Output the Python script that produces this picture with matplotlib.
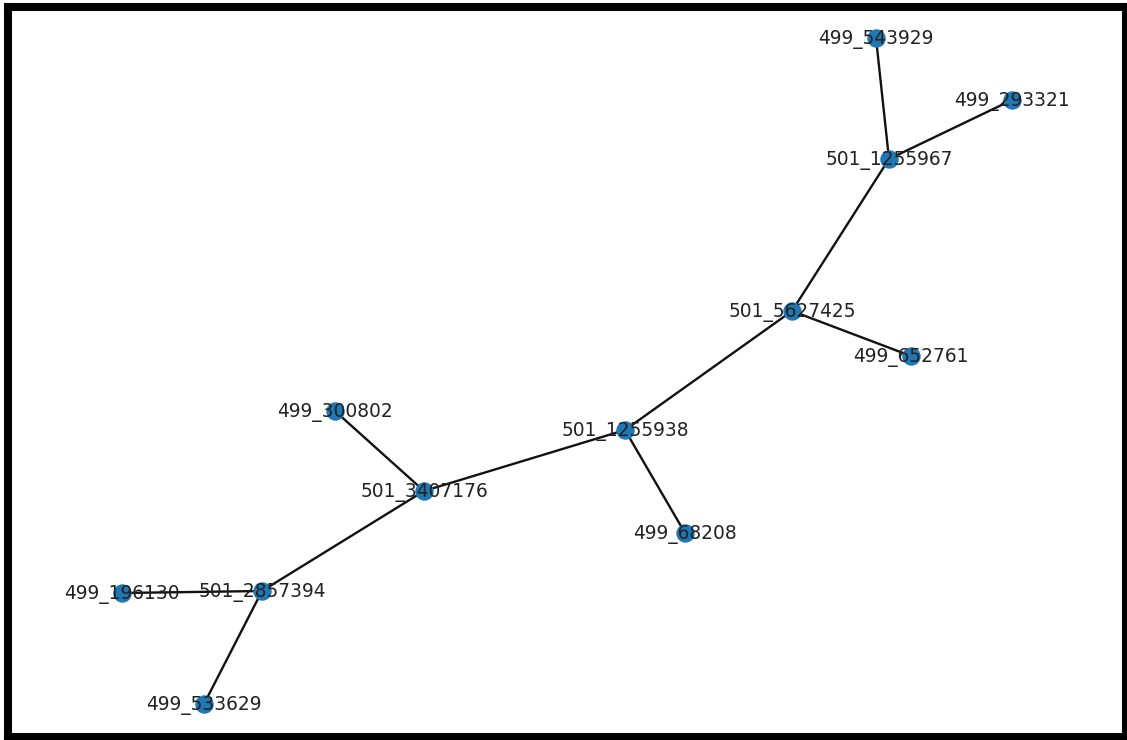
import matplotlib
matplotlib.use('Agg')
import matplotlib.pyplot as plt

# node names and layout positions (layout units)
nodes = ['499_543929', '499_293321', '501_1255967', '501_5627425', '499_652761',
         '501_1255938', '499_68208', '499_300802', '501_3407176', '501_2857394',
         '499_196130', '499_533629']
pos_x = [876, 1012, 889, 792, 911, 625, 685, 335, 424, 262, 122, 204]
pos_y = [-38, -100, -159, -311, -356, -430, -533, -411, -491, -591, -593, -704]

edges = [('499_543929', '501_1255967'), ('499_293321', '501_1255967'),
         ('501_1255967', '501_5627425'), ('501_5627425', '499_652761'),
         ('501_5627425', '501_1255938'), ('501_1255938', '499_68208'),
         ('501_1255938', '501_3407176'), ('501_3407176', '499_300802'),
         ('501_3407176', '501_2857394'), ('501_2857394', '499_196130'),
         ('501_2857394', '499_533629')]

pos = {n: (x, y) for n, x, y in zip(nodes, pos_x, pos_y)}

W, H = 1127, 740
fig = plt.figure(figsize=(W / 100, H / 100), dpi=100)
# axes frame centred on the thick black border
ax = fig.add_axes([8 / W, 3 / H, (1126 - 8) / W, (733 - 3) / H])
ax.set_xlim(8, 1126)
ax.set_ylim(-737, -7)

for a, b in edges:
    ax.plot([pos[a][0], pos[b][0]], [pos[a][1], pos[b][1]],
            color='#111111', lw=1.7, zorder=1)

ax.scatter(pos_x, pos_y, s=150, color='#1f77b4', zorder=2)

for n in nodes:
    ax.text(pos[n][0], pos[n][1] - 1, n, fontsize=13.4, ha='center', va='center',
            color='#222222', zorder=3)

ax.set_xticks([])
ax.set_yticks([])
for sp in ax.spines.values():
    sp.set_linewidth(5.8)
    sp.set_color('black')

fig.savefig('out.png', dpi=100)
